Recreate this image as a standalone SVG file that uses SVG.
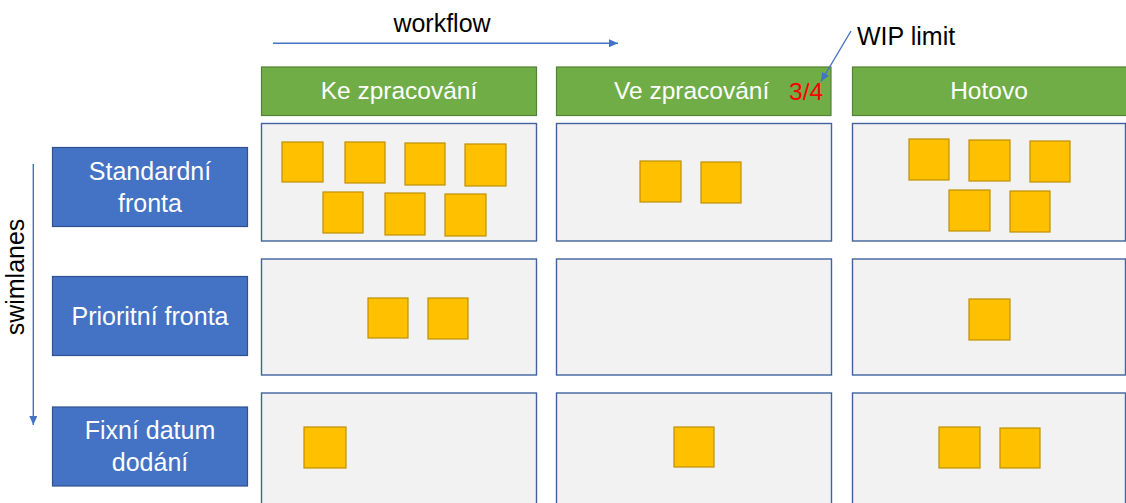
<svg xmlns="http://www.w3.org/2000/svg" width="1126" height="503" viewBox="0 0 1126 503">
  <defs>
    <marker id="arrow" markerUnits="userSpaceOnUse" markerWidth="10" markerHeight="9" refX="9" refY="4" orient="auto">
      <path d="M0,0 L9,4 L0,8 Z" fill="#4472C4"/>
    </marker>
  </defs>
  <style>
    text { font-family: "Liberation Sans", Arial, sans-serif; }
    .header { fill: #70AD47; stroke: #548235; stroke-width: 1.2; }
    .header-text { fill: #FFFFFF; font-size: 24.5px; }
    .lane { fill: #4472C4; stroke: #2F528F; stroke-width: 1.2; }
    .lane-text { fill: #FFFFFF; font-size: 25px; text-anchor: middle; }
    .cell { fill: #F2F2F2; stroke: #41629E; stroke-width: 1.4; }
    .card { fill: #FFC000; stroke: #BF9000; stroke-width: 1.2; }
    .label { fill: #000000; font-size: 25px; }
    .wip { fill: #FF0000; font-size: 24.5px; }
    .flow { fill: none; stroke: #4472C4; stroke-width: 1.4; }
  </style>

  <rect width="1126" height="503" fill="#FFFFFF"/>

  <!-- column headers -->
  <g id="col-todo">
    <rect class="header" x="261.5" y="67" width="275" height="48.5"/>
    <text class="header-text" x="399" y="99" text-anchor="middle">Ke zpracování</text>
  </g>
  <g id="col-doing">
    <rect class="header" x="556.5" y="67" width="274.5" height="48.5"/>
    <text class="header-text" x="614" y="99">Ve zpracování</text>
    <text class="wip" x="789" y="99.5">3/4</text>
  </g>
  <g id="col-done">
    <rect class="header" x="852.5" y="67" width="276" height="48.5"/>
    <text class="header-text" x="989" y="99" text-anchor="middle">Hotovo</text>
  </g>

  <!-- swimlane labels -->
  <g id="lane-standard">
    <rect class="lane" x="52.5" y="147.5" width="195" height="79"/>
    <text class="lane-text" x="150" y="179.5">Standardní</text>
    <text class="lane-text" x="150" y="211.5">fronta</text>
  </g>
  <g id="lane-priority">
    <rect class="lane" x="52.5" y="276.5" width="195" height="79"/>
    <text class="lane-text" x="150" y="324.5">Prioritní fronta</text>
  </g>
  <g id="lane-fixed">
    <rect class="lane" x="52.5" y="407" width="195" height="79"/>
    <text class="lane-text" x="150" y="438.5">Fixní datum</text>
    <text class="lane-text" x="150" y="470.5">dodání</text>
  </g>

  <!-- board cells with cards -->
  <g id="cell-standard-todo">
    <rect class="cell" x="261.5" y="123.5" width="275" height="117.5"/>
    <rect class="card" x="282" y="142" width="41" height="40"/>
    <rect class="card" x="345" y="142" width="40" height="41"/>
    <rect class="card" x="405" y="143" width="40" height="42"/>
    <rect class="card" x="465" y="144" width="41" height="42"/>
    <rect class="card" x="323" y="192" width="40" height="41"/>
    <rect class="card" x="385" y="193" width="40" height="42"/>
    <rect class="card" x="445" y="194" width="41" height="42"/>
  </g>
  <g id="cell-standard-doing">
    <rect class="cell" x="556.5" y="123.5" width="275" height="117.5"/>
    <rect class="card" x="640" y="161" width="41" height="41"/>
    <rect class="card" x="701" y="162" width="40" height="41"/>
  </g>
  <g id="cell-standard-done">
    <rect class="cell" x="852.5" y="123.5" width="273" height="117.5"/>
    <rect class="card" x="909" y="139" width="40" height="41"/>
    <rect class="card" x="969" y="140" width="41" height="41"/>
    <rect class="card" x="1030" y="141" width="40" height="41"/>
    <rect class="card" x="949" y="190" width="41" height="41"/>
    <rect class="card" x="1010" y="191" width="40" height="41"/>
  </g>

  <g id="cell-priority-todo">
    <rect class="cell" x="261.5" y="259" width="275" height="116"/>
    <rect class="card" x="368" y="298" width="40" height="40"/>
    <rect class="card" x="428" y="298" width="40" height="41"/>
  </g>
  <g id="cell-priority-doing">
    <rect class="cell" x="556.5" y="259" width="275" height="116"/>
  </g>
  <g id="cell-priority-done">
    <rect class="cell" x="852.5" y="259" width="273" height="116"/>
    <rect class="card" x="969" y="299" width="41" height="41"/>
  </g>

  <g id="cell-fixed-todo">
    <rect class="cell" x="261.5" y="393" width="275" height="130"/>
    <rect class="card" x="304" y="427" width="42" height="41"/>
  </g>
  <g id="cell-fixed-doing">
    <rect class="cell" x="556.5" y="393" width="275" height="130"/>
    <rect class="card" x="674" y="427" width="40" height="40"/>
  </g>
  <g id="cell-fixed-done">
    <rect class="cell" x="852.5" y="393" width="273" height="130"/>
    <rect class="card" x="939" y="427" width="41" height="41"/>
    <rect class="card" x="1000" y="428" width="40" height="40"/>
  </g>

  <!-- axis labels -->
  <text class="label" x="442" y="31.5" text-anchor="middle">workflow</text>
  <text class="label" x="857" y="44.5">WIP limit</text>
  <text class="label" font-size="24.5" text-anchor="middle" transform="translate(24 277) rotate(-90)">swimlanes</text>

  <!-- connectors -->
  <g id="connectors">
    <line class="flow" x1="273" y1="43.3" x2="618" y2="43.3" marker-end="url(#arrow)"/>
    <line class="flow" x1="33.3" y1="164" x2="33.3" y2="425" marker-end="url(#arrow)"/>
    <line class="flow" x1="851" y1="31" x2="821" y2="81.5" marker-end="url(#arrow)"/>
  </g>
</svg>
